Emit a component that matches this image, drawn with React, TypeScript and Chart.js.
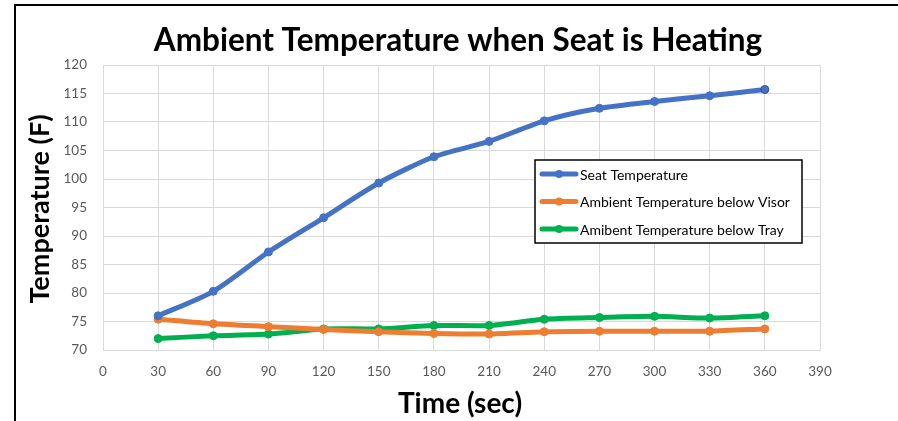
import React, { useEffect, useRef } from "react";
import { Chart, registerables } from "chart.js";

Chart.register(...registerables);

const times = [30, 60, 90, 120, 150, 180, 210, 240, 270, 300, 330, 360];
const seatTemp = [76.0, 80.3, 87.2, 93.2, 99.3, 103.9, 106.6, 110.2, 112.4, 113.6, 114.6, 115.7];
const visorTemp = [75.4, 74.6, 74.1, 73.6, 73.2, 72.9, 72.8, 73.2, 73.3, 73.3, 73.3, 73.7];
const trayTemp = [72.0, 72.5, 72.8, 73.7, 73.7, 74.3, 74.3, 75.4, 75.7, 75.9, 75.6, 76.0];
const seriesLabels = [
  "Seat Temperature",
  "Ambient Temperature below Visor",
  "Amibent Temperature below Tray",
];
const seriesColors = ["#4472C4", "#ED7D31", "#00B050"];
const chartTitle = "Ambient Temperature when Seat is Heating";
const xTitle = "Time (sec)";
const yTitle = "Temperature (F)";

const FONT = "Lato, 'Open Sans', sans-serif";

const decorPlugin = {
  id: "decor",
  beforeDraw(chart: any) {
    const ctx = chart.ctx;
    ctx.save();
    ctx.fillStyle = "#ffffff";
    ctx.fillRect(0, 0, chart.width, chart.height);
    ctx.restore();
  },
  afterDraw(chart: any) {
    const ctx = chart.ctx;
    ctx.save();
    // frame (top and left edges)
    ctx.strokeStyle = "#000000";
    ctx.lineWidth = 2;
    ctx.beginPath();
    ctx.moveTo(15, chart.height);
    ctx.lineTo(15, 5);
    ctx.lineTo(chart.width, 5);
    ctx.stroke();

    // title
    ctx.fillStyle = "#000000";
    ctx.textAlign = "center";
    ctx.textBaseline = "alphabetic";
    ctx.font = `bold 31.5px ${FONT}`;
    ctx.fillText(chartTitle, 458, 51);

    // x title
    ctx.font = `bold 28px ${FONT}`;
    ctx.fillText(xTitle, 460, 413);

    // y title
    ctx.save();
    ctx.translate(49, 209);
    ctx.rotate(-Math.PI / 2);
    ctx.font = `bold 27px ${FONT}`;
    ctx.fillText(yTitle, 0, 0);
    ctx.restore();

    // legend
    const lx = 535, ly = 160, lw = 267, lh = 83;
    ctx.fillStyle = "#ffffff";
    ctx.fillRect(lx, ly, lw, lh);
    ctx.strokeStyle = "#000000";
    ctx.lineWidth = 1.5;
    ctx.strokeRect(lx, ly, lw, lh);
    const rows = [174, 201.5, 229];
    ctx.font = `14px ${FONT}`;
    ctx.textAlign = "left";
    ctx.textBaseline = "middle";
    chart.data.datasets.forEach((ds: any, i: number) => {
      const y = rows[i];
      ctx.strokeStyle = ds.borderColor;
      ctx.lineWidth = 5;
      ctx.lineCap = "round";
      ctx.beginPath();
      ctx.moveTo(542, y);
      ctx.lineTo(576, y);
      ctx.stroke();
      ctx.fillStyle = ds.borderColor;
      ctx.beginPath();
      ctx.arc(559, y, 4, 0, Math.PI * 2);
      ctx.fill();
      ctx.fillStyle = "#000000";
      ctx.fillText(ds.label, 580, y + 1);
    });
    ctx.restore();
  },
};

export default function App() {
  const ref = useRef<HTMLCanvasElement | null>(null);

  useEffect(() => {
    if (!ref.current) return;
    const series = [seatTemp, visorTemp, trayTemp];
    const chart = new Chart(ref.current, {
      type: "line",
      data: {
        datasets: series.map((vals, i) => ({
          label: seriesLabels[i],
          data: times.map((t, j) => ({ x: t, y: vals[j] })),
          borderColor: seriesColors[i],
          backgroundColor: seriesColors[i],
          pointBackgroundColor: seriesColors[i],
          pointBorderColor:
            i === 0
              ? times.map((_, j) => (j === times.length - 1 ? "#2F528F" : seriesColors[i]))
              : seriesColors[i],
          pointBorderWidth: 1,
          pointRadius: 4,
          borderWidth: 5,
          tension: 0.25,
          fill: false,
        })),
      },
      options: {
        responsive: false,
        animation: false,
        layout: { padding: { left: 0, top: 65, right: 78, bottom: 0 } },
        plugins: {
          legend: { display: false },
          title: { display: false },
          tooltip: { enabled: false },
        },
        scales: {
          x: {
            type: "linear",
            min: 0,
            max: 390,
            afterFit: (s: any) => {
              s.height = 71;
            },
            ticks: {
              stepSize: 30,
              color: "#595959",
              font: { family: FONT, size: 13.5 },
              padding: 14,
              maxRotation: 0,
            },
            grid: { color: "#d9d9d9", lineWidth: 1, drawTicks: false },
            border: { color: "#d9d9d9" },
          },
          y: {
            type: "linear",
            min: 70,
            max: 120,
            afterFit: (s: any) => {
              s.width = 103;
            },
            ticks: {
              stepSize: 5,
              color: "#595959",
              font: { family: FONT, size: 13.5 },
              padding: 16,
            },
            grid: { color: "#d9d9d9", lineWidth: 1, drawTicks: false },
            border: { color: "#d9d9d9" },
          },
        },
      },
      plugins: [decorPlugin],
    });
    return () => chart.destroy();
  }, []);

  return (
    <div style={{ position: "absolute", left: 0, top: 0, width: 898, height: 421 }}>
      <canvas ref={ref} width={898} height={421} style={{ width: 898, height: 421 }} />
    </div>
  );
}
